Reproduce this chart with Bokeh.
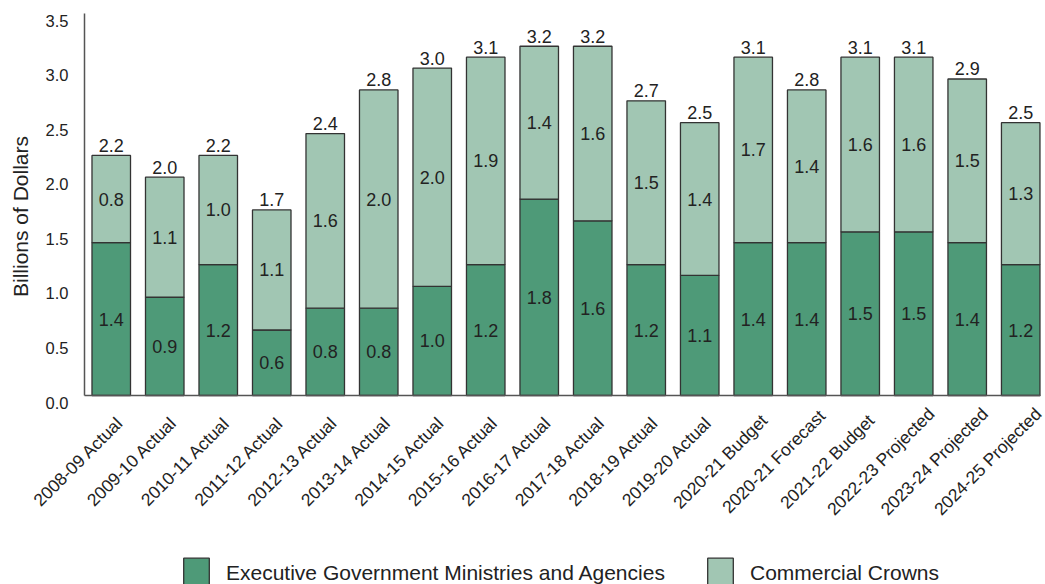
import math
from bokeh.plotting import figure
from bokeh.models import ColumnDataSource, Range1d, Legend, LegendItem
from bokeh.core.properties import value
from bokeh.embed import file_html
from bokeh.resources import INLINE

categories = ["2008-09 Actual", "2009-10 Actual", "2010-11 Actual", "2011-12 Actual",
              "2012-13 Actual", "2013-14 Actual", "2014-15 Actual", "2015-16 Actual",
              "2016-17 Actual", "2017-18 Actual", "2018-19 Actual", "2019-20 Actual",
              "2020-21 Budget", "2020-21 Forecast", "2021-22 Budget", "2022-23 Projected",
              "2023-24 Projected", "2024-25 Projected"]
executive = [1.4, 0.9, 1.2, 0.6, 0.8, 0.8, 1.0, 1.2, 1.8, 1.6, 1.2, 1.1, 1.4, 1.4, 1.5, 1.5, 1.4, 1.2]
crowns = [0.8, 1.1, 1.0, 1.1, 1.6, 2.0, 2.0, 1.9, 1.4, 1.6, 1.5, 1.4, 1.7, 1.4, 1.6, 1.6, 1.5, 1.3]
y_ticks = [0.0, 0.5, 1.0, 1.5, 2.0, 2.5, 3.0, 3.5]
series_names = ["Executive Government Ministries and Agencies", "Commercial Crowns"]
y_title = "Billions of Dollars"

FONT = "Liberation Sans"
DARK = "#4e9a78"
LIGHT = "#a1c6b3"
EDGE = "#333333"
TXT = "#222222"
AXIS = "#555555"

W, H = 1045, 584
# plotting area in pixels (left, right, top, bottom) and its data extent
PL, PR, PT, PB = 84, 1040, 13, 395
X_LO, X_HI = -0.5, 17.37
Y_LO, Y_HI = 0.0, y_ticks[-1]
ux = (X_HI - X_LO) / (PR - PL)
uy = (Y_HI - Y_LO) / (PB - PT)

n = len(categories)
xs = list(range(n))
totals = [round(a + b, 1) for a, b in zip(executive, crowns)]
src = ColumnDataSource(dict(
    x=xs, cat=categories, ex=executive, cr=crowns, tot=totals,
    ex_mid=[a / 2 for a in executive],
    cr_mid=[a + b / 2 for a, b in zip(executive, crowns)],
    ex_lbl=[f"{v:.1f}" for v in executive],
    cr_lbl=[f"{v:.1f}" for v in crowns],
    tot_lbl=[f"{v:.1f}" for v in totals],
    zero=[Y_LO] * n,
))

p = figure(width=W, height=H, output_backend="svg", toolbar_location=None,
           x_range=Range1d(X_LO - PL * ux, X_HI + (W - PR) * ux),
           y_range=Range1d(Y_LO - (H - PB) * uy, Y_HI + PT * uy),
           min_border=0)
p.outline_line_color = None
p.grid.visible = False
p.xaxis.visible = False
p.yaxis.visible = False
p.background_fill_color = "white"

r1 = p.vbar(x="x", width=0.72, bottom=0, top="ex", source=src,
            fill_color=DARK, line_color=EDGE, line_width=1.3)
r2 = p.vbar(x="x", width=0.72, bottom="ex", top="tot", source=src,
            fill_color=LIGHT, line_color=EDGE, line_width=1.3)

# axis lines
p.segment(x0=[X_LO, X_LO], y0=[Y_LO, Y_LO], x1=[X_HI, X_LO], y1=[Y_LO, Y_HI],
          line_color=AXIS, line_width=1.5)

common = dict(text_font=value(FONT), text_font_size="18px", text_color=TXT,
              text_align="center", text_baseline="middle")
p.text(x="x", y="ex_mid", text="ex_lbl", source=src, **common)
p.text(x="x", y="cr_mid", text="cr_lbl", source=src, **common)
p.text(x="x", y="tot", text="tot_lbl", source=src, y_offset=-10, **common)

# y tick labels
ysrc = ColumnDataSource(dict(y=y_ticks, x=[X_LO] * len(y_ticks),
                             t=[f"{v:.1f}" for v in y_ticks]))
p.text(x="x", y="y", text="t", source=ysrc, x_offset=-16, y_offset=7,
       text_align="right", text_baseline="middle",
       text_font=value(FONT), text_font_size="16.5px", text_color=TXT)

# x tick labels (rotated about their centres)
p.text(x="x", y="zero", text="cat", source=src, x_offset=-33, y_offset=66,
       angle=math.pi / 4, text_align="center", text_baseline="middle",
       text_font=value(FONT), text_font_size="17.5px", text_color=TXT)

# y axis title
p.text(x=[X_LO], y=[(Y_LO + Y_HI) / 2 - 0.11], text=[y_title], x_offset=-64,
       angle=math.pi / 2, text_align="center", text_baseline="middle",
       text_font=value(FONT), text_font_size="21px", text_color=TXT)

for r, name, loc in ((r1, series_names[0], (180, -7)), (r2, series_names[1], (704, -7))):
    lg = Legend(items=[LegendItem(label=name, renderers=[r])], location=loc,
                orientation="horizontal", glyph_width=32, glyph_height=37,
                label_standoff=14, padding=0, margin=0, border_line_alpha=0,
                background_fill_alpha=0, label_text_font=FONT,
                label_text_font_size="21px", label_text_color=TXT)
    p.add_layout(lg, "center")

open("out.html", "w").write(file_html(p, INLINE))
